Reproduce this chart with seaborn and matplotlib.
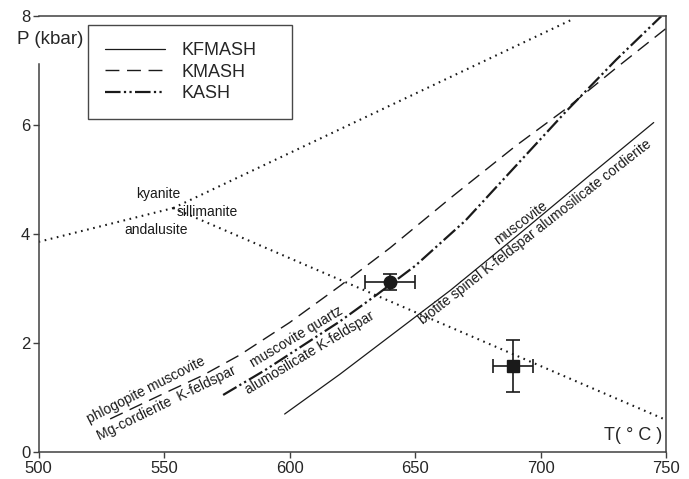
import matplotlib
matplotlib.use("Agg")
import matplotlib.pyplot as plt
import seaborn as sns
import pandas as pd
from matplotlib.lines import Line2D

# ---- data ----
kfmash_T = [598, 620, 640, 664, 690, 720, 745]
kfmash_P = [0.70, 1.43, 2.13, 2.97, 3.95, 5.10, 6.05]

kmash_T = [528.5, 550, 565, 580, 600, 620, 640, 665, 690, 710, 730, 750]
kmash_P = [0.61, 1.08, 1.40, 1.78, 2.38, 3.05, 3.75, 4.70, 5.62, 6.30, 7.05, 7.78]

kash_T = [573.5, 590, 605, 620, 635, 650, 670, 690, 710, 730, 748]
kash_P = [1.05, 1.50, 1.95, 2.40, 2.90, 3.42, 4.25, 5.25, 6.25, 7.20, 8.00]

# Al2SiO5 triple point reactions
ky_and_T = [500, 553.6]
ky_and_P = [3.86, 4.48]
ky_sil_T = [553.6, 712]
ky_sil_P = [4.48, 7.93]
and_sil_T = [553.6, 750]
and_sil_P = [4.48, 0.59]

pt_T = [640, 689]
pt_P = [3.12, 1.58]
pt_Terr = [10, 8]
pt_Perr = [0.15, 0.48]
pt_markers = ["o", "s"]

x_ticks = [500, 550, 600, 650, 700, 750]
y_ticks = [0, 2, 4, 6, 8]

sns.set_theme(style="ticks")
plt.rcParams["font.family"] = ["Liberation Sans", "DejaVu Sans"]

fig = plt.figure(figsize=(6.89, 4.79), dpi=100)
ax = fig.add_axes([0.056, 0.056, 0.911, 0.910])

ink = "#1a1a1a"
spine_c = "#404040"

def line(T, P, **kw):
    df = pd.DataFrame({"T": T, "P": P})
    sns.lineplot(data=df, x="T", y="P", ax=ax, color=ink, legend=False, **kw)

DASH = (10, 5.5)
DASHDOT = (7, 1.5, 1, 1.5, 1, 1.5)
DOT = (0.8, 2.2)

line(kfmash_T, kfmash_P, linewidth=0.9)
line(kmash_T, kmash_P, linewidth=1.0, dashes=DASH)
line(kash_T, kash_P, linewidth=1.6, dashes=DASHDOT)
line(ky_and_T, ky_and_P, linewidth=1.5, dashes=DOT)
line(ky_sil_T, ky_sil_P, linewidth=1.5, dashes=DOT)
line(and_sil_T, and_sil_P, linewidth=1.5, dashes=DOT)

for T, P, xe, ye, m in zip(pt_T, pt_P, pt_Terr, pt_Perr, pt_markers):
    ax.errorbar(T, P, xerr=xe, yerr=ye, fmt=m, color=ink, markersize=9 if m == "o" else 8,
                capsize=5, elinewidth=1.2, capthick=1.2, zorder=5)

ax.set_xlim(500, 750)
ax.set_ylim(0, 8)
ax.set_xticks(x_ticks)
ax.set_yticks(y_ticks)
ax.set_xlabel("")
ax.set_ylabel("")
ax.tick_params(axis="both", labelsize=12, length=4, width=1, color=spine_c, pad=2)
for s in ["left", "right", "top", "bottom"]:
    ax.spines[s].set_visible(True)
    ax.spines[s].set_color(spine_c)
    ax.spines[s].set_linewidth(1.1)
ax.spines["left"].set_bounds(0, 7.12)

ax.text(491.4, 7.58, "P (kbar)", fontsize=13.5, ha="left", va="center", clip_on=False)
ax.text(748.5, 0.30, "T( ° C )", fontsize=13, ha="right", va="center")

ann = dict(fontsize=10, ha="center", va="center", rotation_mode="anchor", color=ink)
ax.text(547.6, 4.74, "kyanite", **ann)
ax.text(567.0, 4.40, "sillimanite", **ann)
ax.text(546.8, 4.07, "andalusite", **ann)
ax.text(542.8, 1.14, "phlogopite muscovite", rotation=27, **ann)
ax.text(550.8, 0.90, "Mg-cordierite  K-feldspar", rotation=26, **ann)
ax.text(602.6, 2.11, "muscovite quartz", rotation=31, **ann)
ax.text(608.0, 1.83, "alumosilicate K-feldspar", rotation=31, **ann)
ax.text(692.0, 4.20, "muscovite", rotation=37, **ann)
ax.text(697.8, 4.04, "biotite spinel K-feldspar alumosilicate cordierite", rotation=38, **ann)

handles = [
    Line2D([], [], color=ink, linewidth=0.9),
    Line2D([], [], color=ink, linewidth=1.0, dashes=DASH),
    Line2D([], [], color=ink, linewidth=1.6, dashes=DASHDOT),
]
leg = ax.legend(handles, ["KFMASH", "KMASH", "KASH"], loc="upper left",
                bbox_to_anchor=(0.079, 0.78, 0.325, 0.20), mode="expand",
                borderaxespad=0, fontsize=13,
                handlelength=3.3, handletextpad=0.9, frameon=True, fancybox=False,
                borderpad=0.95, labelspacing=0.25)
leg.get_frame().set_edgecolor(ink)
leg.get_frame().set_linewidth(1.0)

fig.savefig("out.png", dpi=100)
